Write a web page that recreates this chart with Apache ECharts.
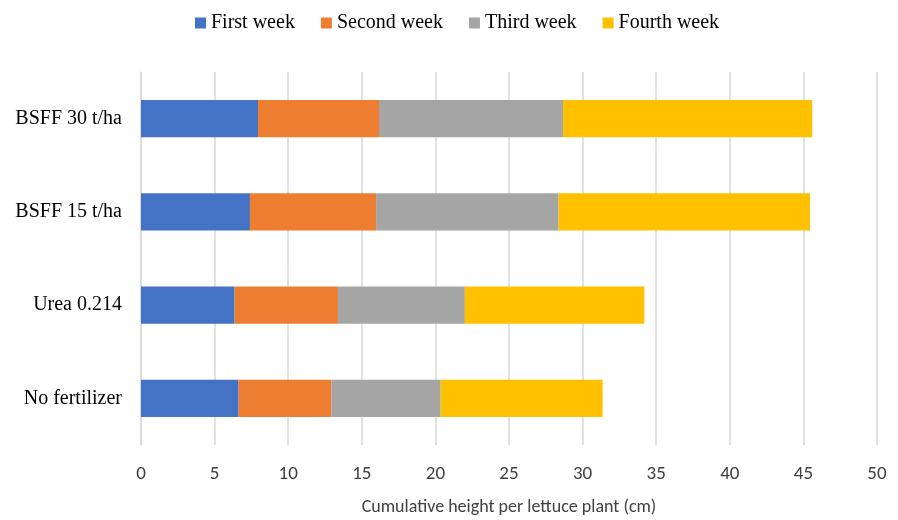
<!DOCTYPE html>
<html>
<head>
<meta charset="utf-8">
<script src="https://cdn.jsdelivr.net/npm/echarts@6/dist/echarts.min.js"></script>
<style>
  html, body { margin: 0; padding: 0; background: #ffffff; }
  #chart { width: 898px; height: 520px; }
</style>
</head>
<body>
<div id="chart"></div>
<script>
// Treatments, listed top to bottom
const treatments = ['BSFF 30 t/ha', 'BSFF 15 t/ha', 'Urea 0.214', 'No fertilizer'];

// Height gained each week (cm), stacked into a cumulative total
const firstWeek  = [7.95, 7.40, 6.36, 6.63];
const secondWeek = [8.22, 8.57, 7.02, 6.30];
const thirdWeek  = [12.50, 12.40, 8.62, 7.43];
const fourthWeek = [16.93, 17.08, 12.20, 11.00];

const seriesNames = ['First week', 'Second week', 'Third week', 'Fourth week'];
const seriesColors = ['#4472C4', '#ED7D31', '#A5A5A5', '#FFC000'];
const seriesData = [firstWeek, secondWeek, thirdWeek, fourthWeek];

const axisTicks = [0, 5, 10, 15, 20, 25, 30, 35, 40, 45, 50];

const sansFont = 'Carlito, Lato, "Open Sans", sans-serif';
const serifFont = '"Liberation Serif", "Times New Roman", serif';

const chart = echarts.init(document.getElementById('chart'), null, { renderer: 'canvas' });

chart.setOption({
  animation: false,
  backgroundColor: '#ffffff',
  legend: {
    top: 8,
    left: 190,
    itemWidth: 11,
    itemHeight: 11,
    itemGap: 26,
    icon: 'rect',
    textStyle: { fontFamily: serifFont, fontSize: 20, color: '#000000', padding: [0, 0, 0, 0] },
    data: seriesNames
  },
  grid: {
    left: 141,
    right: 21,
    top: 72,
    bottom: 75,
    containLabel: false,
    outerBoundsMode: 'none'
  },
  xAxis: {
    type: 'value',
    min: axisTicks[0],
    max: axisTicks[axisTicks.length - 1],
    interval: 5,
    name: 'Cumulative height per lettuce plant (cm)',
    nameLocation: 'middle',
    nameGap: 53,
    nameTextStyle: { fontFamily: sansFont, fontSize: 18, color: '#404040' },
    axisLine: { show: false },
    axisTick: { show: false },
    axisLabel: {
      margin: 20,
      fontFamily: sansFont,
      fontSize: 19,
      color: '#404040'
    },
    splitLine: { show: true, lineStyle: { color: '#d9d9d9', width: 1.5 } }
  },
  yAxis: {
    type: 'category',
    inverse: true,
    data: treatments,
    axisLine: { show: true, lineStyle: { color: '#d9d9d9', width: 1.5 } },
    axisTick: { show: false },
    axisLabel: {
      margin: 19,
      fontFamily: serifFont,
      fontSize: 20,
      color: '#000000'
    }
  },
  series: seriesNames.map((name, i) => ({
    name: name,
    type: 'bar',
    stack: 'total',
    barCategoryGap: '60%',
    itemStyle: { color: seriesColors[i] },
    data: seriesData[i]
  }))
});
</script>
</body>
</html>
